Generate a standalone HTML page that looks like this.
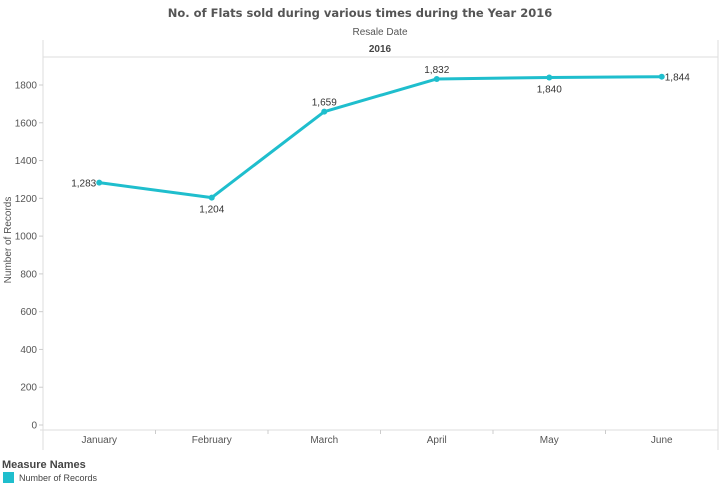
<!DOCTYPE html>
<html><head><meta charset="utf-8"><style>
body{margin:0;background:#fff;font-family:"Liberation Sans",sans-serif}
svg text{font-family:"Liberation Sans",sans-serif}
</style></head><body>
<svg width="720" height="487" viewBox="0 0 720 487" id="c">
<text x="360" y="17" text-anchor="middle" font-size="11.5" font-weight="bold" fill="#555" style="font-family:'DejaVu Sans',sans-serif">No. of Flats sold during various times during the Year 2016</text>
<text x="380" y="35" text-anchor="middle" font-size="10" fill="#555">Resale Date</text>
<text x="380" y="52" text-anchor="middle" font-size="10" font-weight="bold" fill="#444">2016</text>
<line x1="43" y1="40" x2="43" y2="450" stroke="#ddd"/>
<line x1="718" y1="40" x2="718" y2="450" stroke="#ddd"/>
<line x1="43" y1="57" x2="718" y2="57" stroke="#ddd"/>
<line x1="40" y1="430" x2="718" y2="430" stroke="#ddd"/>
<text transform="translate(11,240) rotate(-90)" text-anchor="middle" font-size="10" fill="#555">Number of Records</text>
<g id="yt"></g><g id="xt"></g><g id="ln"></g>
<text x="2" y="468" font-size="11" font-weight="bold" fill="#444">Measure Names</text>
<rect x="3" y="472" width="11" height="11" fill="#1fbecd"/>
<text x="19" y="481" font-size="9" fill="#444">Number of Records</text>
</svg>
<script>
const months=["January","February","March","April","May","June"];
const values=[1283,1204,1659,1832,1840,1844];
const yTicks=[0,200,400,600,800,1000,1200,1400,1600,1800];
const labelPos=["left","below","above","above","below","right"];
const ns="http://www.w3.org/2000/svg";
const y=v=>425-v*(340/1800);
const x=i=>43+112.5*(i+0.5);
function mk(t,a,p,txt){const e=document.createElementNS(ns,t);for(const k in a)e.setAttribute(k,a[k]);if(txt!=null)e.textContent=txt;p.appendChild(e);return e;}
const yt=document.getElementById('yt'),xt=document.getElementById('xt'),ln=document.getElementById('ln');
yTicks.forEach(v=>{
 const t=mk('text',{x:37,y:y(v)+3.5,'text-anchor':'end','font-size':10,fill:'#555'},yt,v);
 
 
 const l=mk('line',{x1:39,x2:43,y1:y(v),y2:y(v),stroke:'#ccc'},yt);
 
 
});
months.forEach((m,i)=>{
 const t=mk('text',{x:x(i),y:443,'text-anchor':'middle','font-size':10,fill:'#555'},xt,m);
 
 
 if(i>0){const l=mk('line',{x1:43+112.5*i,x2:43+112.5*i,y1:430,y2:434,stroke:'#ccc'},xt);
 
 }
});
const p=mk('polyline',{points:values.map((v,i)=>x(i)+','+y(v)).join(' '),fill:'none',stroke:'#1fbecd','stroke-width':3,'stroke-linejoin':'round'},ln);


values.forEach((v,i)=>{
 const c=mk('circle',{cx:x(i),cy:y(v),r:3,fill:'#1fbecd'},ln);
 
 
 const s=v.toLocaleString('en-US');let a={'font-size':10,fill:'#333'};
 const pos=labelPos[i];
 if(pos==='left'){a.x=x(i)-3;a.y=y(v)+4;a['text-anchor']='end';}
 else if(pos==='right'){a.x=x(i)+3;a.y=y(v)+4;a['text-anchor']='start';}
 else if(pos==='above'){a.x=x(i);a.y=y(v)-6;a['text-anchor']='middle';}
 else {a.x=x(i);a.y=y(v)+15;a['text-anchor']='middle';}
 const t=mk('text',a,ln,s);
 
 
});
</script>
</body></html>
